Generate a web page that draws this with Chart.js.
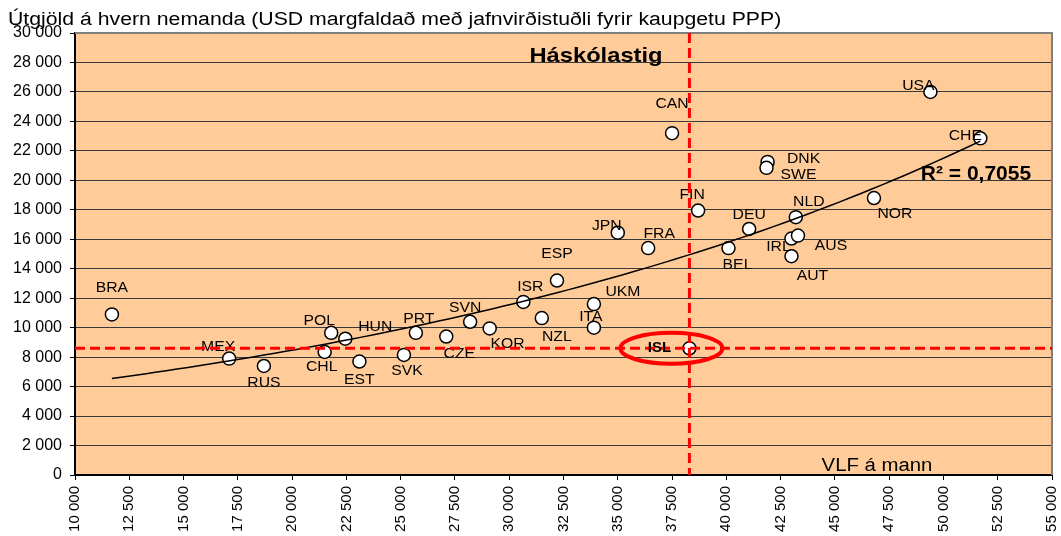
<!DOCTYPE html>
<html>
<head>
<meta charset="utf-8">
<script src="https://cdn.jsdelivr.net/npm/chart.js@4/dist/chart.umd.min.js"></script>
<style>
  html, body { margin: 0; padding: 0; background: #fff; }
  #wrap { width: 1061px; height: 536px; }
</style>
</head>
<body>
<div id="wrap"><canvas id="chart" width="1061" height="536"></canvas></div>
<script>
// Lönd, VLF á mann (x) og útgjöld á hvern nemanda á háskólastigi (y)
const countries = ['BRA','MEX','RUS','POL','HUN','CHL','EST','PRT','SVK','CZE','SVN','KOR','NZL','ISR','ESP','ITA','UKM','JPN','FRA','CAN','FIN','ISL','DEU','BEL','DNK','SWE','NLD','IRL','AUS','AUT','NOR','USA','CHE'];
const gdpPerCapita = [11700,17100,18700,21800,22450,21500,23100,25700,25150,27100,28200,29100,31500,30650,32200,33900,33900,35000,36400,37500,38700,38300,41050,40100,41900,41850,43200,43000,43300,43000,46800,49400,51700];
const spendPerStudent = [10900,7900,7400,9650,9250,8350,7700,9650,8150,9400,10400,9950,10650,11750,13200,10000,11600,16450,15400,23200,17950,8600,16700,15400,21250,20850,17500,16050,16250,14850,18800,26000,22850];

const highlight = 'ISL';
const xMin = 10000, xMax = 55000, xStep = 2500;
const yMin = 0, yMax = 30000, yStep = 2000;
const titleText = 'Útgjöld á hvern nemanda (USD margfaldað með jafnvirðistuðli fyrir kaupgetu PPP)';
const levelText = 'Háskólastig';
const xAxisText = 'VLF á mann';
const r2Text = 'R² = 0,7055';

// label placement (pixels from the point centre)
const labelOffset = {
  BRA:[0,-27], MEX:[-11,-12], RUS:[0,17], POL:[-12,-12], HUN:[30,-12], CHL:[-3,15],
  EST:[0,18], PRT:[3,-14], SVK:[3,16], CZE:[13,17], SVN:[-5,-14], KOR:[18,15],
  NZL:[15,19], ISR:[7,-15], ESP:[0,-27], ITA:[-3,-11], UKM:[29,-12], JPN:[-11,-7],
  FRA:[11,-14], CAN:[0,-29], FIN:[-6,-16], ISL:[-30,0], DEU:[0,-14], BEL:[9,17],
  DNK:[36,-3], SWE:[32,7], NLD:[13,-15], IRL:[-13,8], AUS:[33,10], AUT:[21,20],
  NOR:[21,16], USA:[-12,-6], CHE:[-15,-2]
};

const FONT = "'Liberation Sans', Arial, sans-serif";
const fmt = v => String(v).replace(/\B(?=(\d{3})+(?!\d))/g, ' ');

const points = countries.map((c, i) => ({ x: gdpPerCapita[i], y: spendPerStudent[i] }));

// exponential trendline (least squares on ln y), like Excel's
function expFit(xs, ys) {
  const n = xs.length;
  let sx = 0, sy = 0, sxx = 0, sxy = 0;
  xs.forEach((x, i) => {
    const ly = Math.log(ys[i]);
    sx += x; sy += ly; sxx += x * x; sxy += x * ly;
  });
  const b = (n * sxy - sx * sy) / (n * sxx - sx * sx);
  const a = Math.exp((sy - b * sx) / n);
  return { a, b };
}
const fit = expFit(gdpPerCapita, spendPerStudent);
const tMin = Math.min(...gdpPerCapita), tMax = Math.max(...gdpPerCapita);
const trendPts = [];
for (let k = 0; k <= 80; k++) {
  const x = tMin + (tMax - tMin) * k / 80;
  trendPts.push({ x, y: fit.a * Math.exp(fit.b * x) });
}

function wideText(ctx, txt, x, y, sx) {
  ctx.save();
  ctx.translate(x, y);
  ctx.scale(sx, 1);
  ctx.fillText(txt, 0, 0);
  ctx.restore();
}

const plotBg = {
  id: 'plotBg',
  beforeDraw(chart) {
    const { ctx, chartArea: a } = chart;
    ctx.save();
    ctx.fillStyle = '#FFCC99';
    ctx.fillRect(a.left, a.top, a.right - a.left, a.bottom - a.top);
    ctx.restore();
  }
};

const overlay = {
  id: 'overlay',
  afterDatasetsDraw(chart) {
    const { ctx, chartArea: a, scales: { x, y } } = chart;
    ctx.save();

    // top/right frame
    ctx.strokeStyle = '#808080';
    ctx.lineWidth = 2;
    ctx.beginPath();
    ctx.moveTo(a.left, a.top); ctx.lineTo(a.right, a.top); ctx.lineTo(a.right, a.bottom);
    ctx.stroke();

    // country labels
    ctx.fillStyle = '#000';
    ctx.textAlign = 'center';
    ctx.textBaseline = 'middle';
    ctx.font = '15px ' + FONT;
    countries.forEach((c, i) => {
      if (c === highlight) return;
      const off = labelOffset[c] || [0, -14];
      wideText(ctx, c, x.getPixelForValue(gdpPerCapita[i]) + off[0], y.getPixelForValue(spendPerStudent[i]) + off[1], 1.05);
    });

    // red guide lines through Iceland
    const hi = countries.indexOf(highlight);
    const hx = x.getPixelForValue(gdpPerCapita[hi]);
    const hy = y.getPixelForValue(spendPerStudent[hi]);
    ctx.strokeStyle = '#FF0000';
    ctx.lineWidth = 3;
    ctx.setLineDash([10, 5]);
    ctx.beginPath();
    ctx.moveTo(hx, a.top); ctx.lineTo(hx, a.bottom);
    ctx.moveTo(a.left, hy); ctx.lineTo(a.right, hy);
    ctx.stroke();
    ctx.setLineDash([]);

    // ellipse round Iceland
    ctx.lineWidth = 4;
    ctx.beginPath();
    ctx.ellipse(hx - 18, hy, 51, 15.5, 0, 0, Math.PI * 2);
    ctx.stroke();

    ctx.fillStyle = '#000';
    ctx.font = 'bold 15px ' + FONT;
    const ho = labelOffset[highlight];
    ctx.fillText(highlight, hx + ho[0], hy + ho[1]);

    // texts
    ctx.textBaseline = 'alphabetic';
    ctx.textAlign = 'center';
    ctx.font = 'bold 21px ' + FONT;
    wideText(ctx, levelText, 596, 62, 1.13);
    ctx.font = 'bold 20px ' + FONT;
    wideText(ctx, r2Text, 976, 180, 1.05);
    ctx.font = '18px ' + FONT;
    wideText(ctx, xAxisText, 877, 471, 1.13);
    ctx.textAlign = 'left';
    ctx.font = '18px ' + FONT;
    wideText(ctx, titleText, 8, 25, 1.18);
    ctx.restore();
  }
};

new Chart(document.getElementById('chart'), {
  type: 'scatter',
  data: {
    datasets: [
      {
        label: 'trend', type: 'line', data: trendPts, order: 0,
        borderColor: '#000', borderWidth: 1.5, pointRadius: 0, fill: false, tension: 0
      },
      {
        label: 'lönd', data: points, order: 1,
        pointRadius: 6.5, pointBackgroundColor: '#fff', pointBorderColor: '#000', pointBorderWidth: 1.5
      }
    ]
  },
  options: {
    responsive: false,
    animation: false,
    layout: { padding: { top: 33, right: 9, left: 0, bottom: 0 } },
    plugins: { legend: { display: false }, tooltip: { enabled: false } },
    scales: {
      x: {
        type: 'linear', min: xMin, max: xMax,
        ticks: {
          stepSize: xStep, minRotation: 90, maxRotation: 90, autoSkip: false,
          color: '#000', font: { family: FONT, size: 15 }, padding: 6, callback: fmt
        },
        grid: { drawOnChartArea: false, drawTicks: true, tickLength: 5, color: '#000' },
        border: { color: '#000', width: 2 },
        afterFit(s) { s.height = 61; s.paddingLeft = 0; s.paddingRight = 0; }
      },
      y: {
        min: yMin, max: yMax,
        ticks: { stepSize: yStep, color: '#000', font: { family: FONT, size: 16 }, padding: 8, callback: fmt },
        grid: { color: c => (c.tick && c.tick.value === yMax) ? 'rgba(0,0,0,0)' : '#3a3a3a', tickColor: '#000', tickLength: 5, lineWidth: 1 },
        border: { color: '#000', width: 2 },
        afterFit(s) { s.width = 75; s.paddingTop = 0; s.paddingBottom = 0; }
      }
    }
  },
  plugins: [plotBg, overlay]
});
</script>
</body>
</html>
